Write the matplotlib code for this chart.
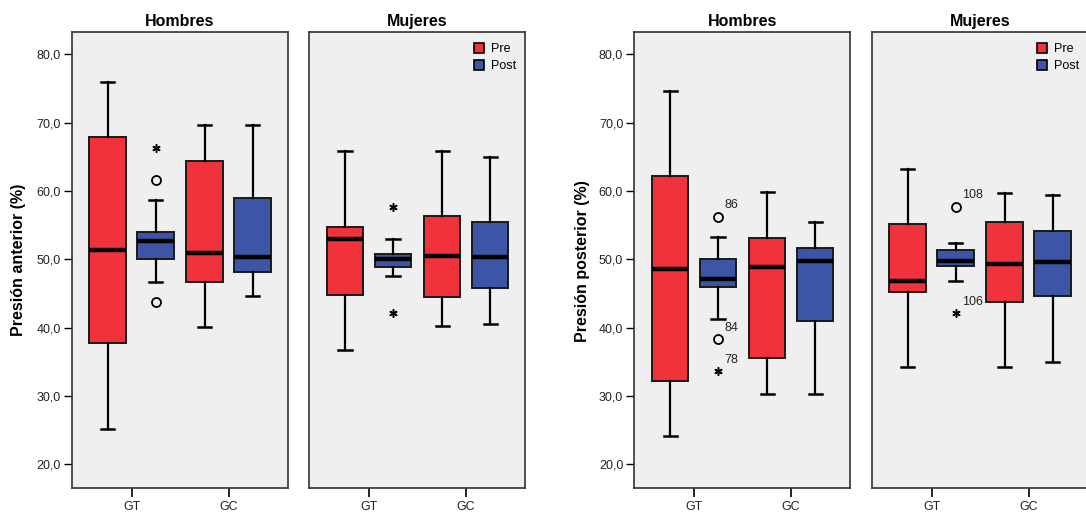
import matplotlib.pyplot as plt
from matplotlib.patches import Patch
from matplotlib.ticker import FuncFormatter

plt.rcParams['font.family'] = ['Liberation Sans', 'DejaVu Sans']

groups = ["GT", "GC"]
series = ["Pre", "Post"]
y_ticks = [20, 30, 40, 50, 60, 70, 80]

# (whislo, q1, med, q3, whishi) in order: Pre GT, Post GT, Pre GC, Post GC
ant_hombres = [(25.2, 37.8, 51.3, 67.9, 75.9),
               (46.7, 50.0, 52.7, 54.0, 58.7),
               (40.1, 46.75, 51.0, 64.4, 69.7),
               (44.6, 48.2, 50.3, 58.95, 69.7)]
ant_mujeres = [(36.8, 44.8, 53.0, 54.7, 65.8),
               (47.6, 48.85, 50.1, 50.85, 53.0),
               (40.3, 44.55, 50.55, 56.3, 65.8),
               (40.6, 45.8, 50.35, 55.4, 65.0)]
post_hombres = [(24.1, 32.2, 48.65, 62.2, 74.7),
                (41.3, 46.0, 47.2, 50.0, 53.3),
                (30.3, 35.5, 48.95, 53.1, 59.8),
                (30.3, 41.0, 49.7, 51.7, 55.4)]
post_mujeres = [(34.2, 45.2, 46.9, 55.15, 63.2),
                (46.9, 49.05, 49.8, 51.35, 52.45),
                (34.2, 43.7, 49.35, 55.4, 59.7),
                (35.0, 44.6, 49.6, 54.1, 59.4)]

# outliers: (box index, value, marker kind, case label)
ant_hombres_out = [(1, 66.3, "star", ""), (1, 61.6, "circle", ""), (1, 43.8, "circle", "")]
ant_mujeres_out = [(1, 57.7, "star", ""), (1, 42.2, "star", "")]
post_hombres_out = [(1, 56.2, "circle", "86"), (1, 38.3, "circle", "84"), (1, 33.6, "star", "78")]
post_mujeres_out = [(1, 57.7, "circle", "108"), (1, 42.1, "star", "106")]

RED = '#F0323A'
BLUE = '#3C55A6'
OFF = 0.247


def fmt_comma(v, pos):
    return f"{v:.1f}".replace('.', ',')


def draw_panel(ax, boxes, outliers, title, ylabel_ticks):
    stats = []
    for s in boxes:
        stats.append(dict(whislo=s[0], q1=s[1], med=s[2], q3=s[3], whishi=s[4], fliers=[]))
    pos = [0 - OFF, 0 + OFF, 1 - OFF, 1 + OFF]
    bp = ax.bxp(stats, positions=pos, widths=0.378, patch_artist=True,
                showfliers=False, capwidths=0.135,
                boxprops=dict(linewidth=1.4, edgecolor='#1a1a1a'),
                medianprops=dict(color='black', linewidth=3.2, solid_capstyle='butt'),
                whiskerprops=dict(color='black', linewidth=1.6),
                capprops=dict(color='black', linewidth=1.8))
    for i, patch in enumerate(bp['boxes']):
        patch.set_facecolor(RED if i % 2 == 0 else BLUE)

    for idx, val, kind, lab in outliers:
        x = pos[idx]
        if kind == "circle":
            ax.plot(x, val, marker='o', ms=6.5, mfc='none', mec='black', mew=1.3)
        else:
            ax.plot(x, val, marker=(6, 2, 0), ms=6, mec='black', mew=1.1)
        if lab:
            ax.annotate(lab, (x, val), xytext=(4.5, 8.4), textcoords='offset points',
                        ha='left', va='center', fontsize=9, color='#222222')

    ax.set_xlim(-0.615, 1.61)
    ax.set_ylim(16.6, 83.3)
    ax.set_facecolor('#EFEFEF')
    ax.set_xticks([0, 1], groups)
    ax.tick_params(axis='x', length=6.5, width=1.2, pad=3, labelsize=9, labelcolor='#222222')
    if ylabel_ticks:
        ax.set_yticks(y_ticks)
        ax.yaxis.set_major_formatter(FuncFormatter(fmt_comma))
        ax.tick_params(axis='y', length=6, width=1.0, pad=2, labelsize=9, labelcolor='#222222')
    else:
        ax.set_yticks([])
    for sp in ax.spines.values():
        sp.set_color('#333333')
        sp.set_linewidth(1.2)
    ax.set_title(title, fontsize=11.5, fontweight='bold', pad=4)


fig = plt.figure(figsize=(10.86, 5.15), dpi=100)
bottom, height = 0.053, 0.8854
ax1 = fig.add_axes([0.0663, bottom, 0.1989, height])
ax2 = fig.add_axes([0.2848, bottom, 0.1989, height])
ax3 = fig.add_axes([0.5841, bottom, 0.1989, height])
ax4 = fig.add_axes([0.8029, bottom, 0.1989, height])

draw_panel(ax1, ant_hombres, ant_hombres_out, "Hombres", True)
draw_panel(ax2, ant_mujeres, ant_mujeres_out, "Mujeres", False)
draw_panel(ax3, post_hombres, post_hombres_out, "Hombres", True)
draw_panel(ax4, post_mujeres, post_mujeres_out, "Mujeres", False)

fig.text(19 / 1086, 1 - 259.5 / 515, "Presión anterior (%)", rotation=90,
         ha='center', va='center', fontsize=11.5, fontweight='bold')
fig.text(583 / 1086, 1 - 261 / 515, "Presión posterior (%)", rotation=90,
         ha='center', va='center', fontsize=11.5, fontweight='bold')

handles = [Patch(facecolor=RED, edgecolor='black', linewidth=1.2),
           Patch(facecolor=BLUE, edgecolor='black', linewidth=1.2)]
for ax in (ax2, ax4):
    ax.legend(handles, series, loc='upper right', bbox_to_anchor=(0.96, 0.975),
              frameon=False, fontsize=9, handlelength=0.8, handleheight=0.8,
              handletextpad=0.6, labelspacing=0.4, borderpad=0, borderaxespad=0)

fig.savefig("out.png", dpi=100)
